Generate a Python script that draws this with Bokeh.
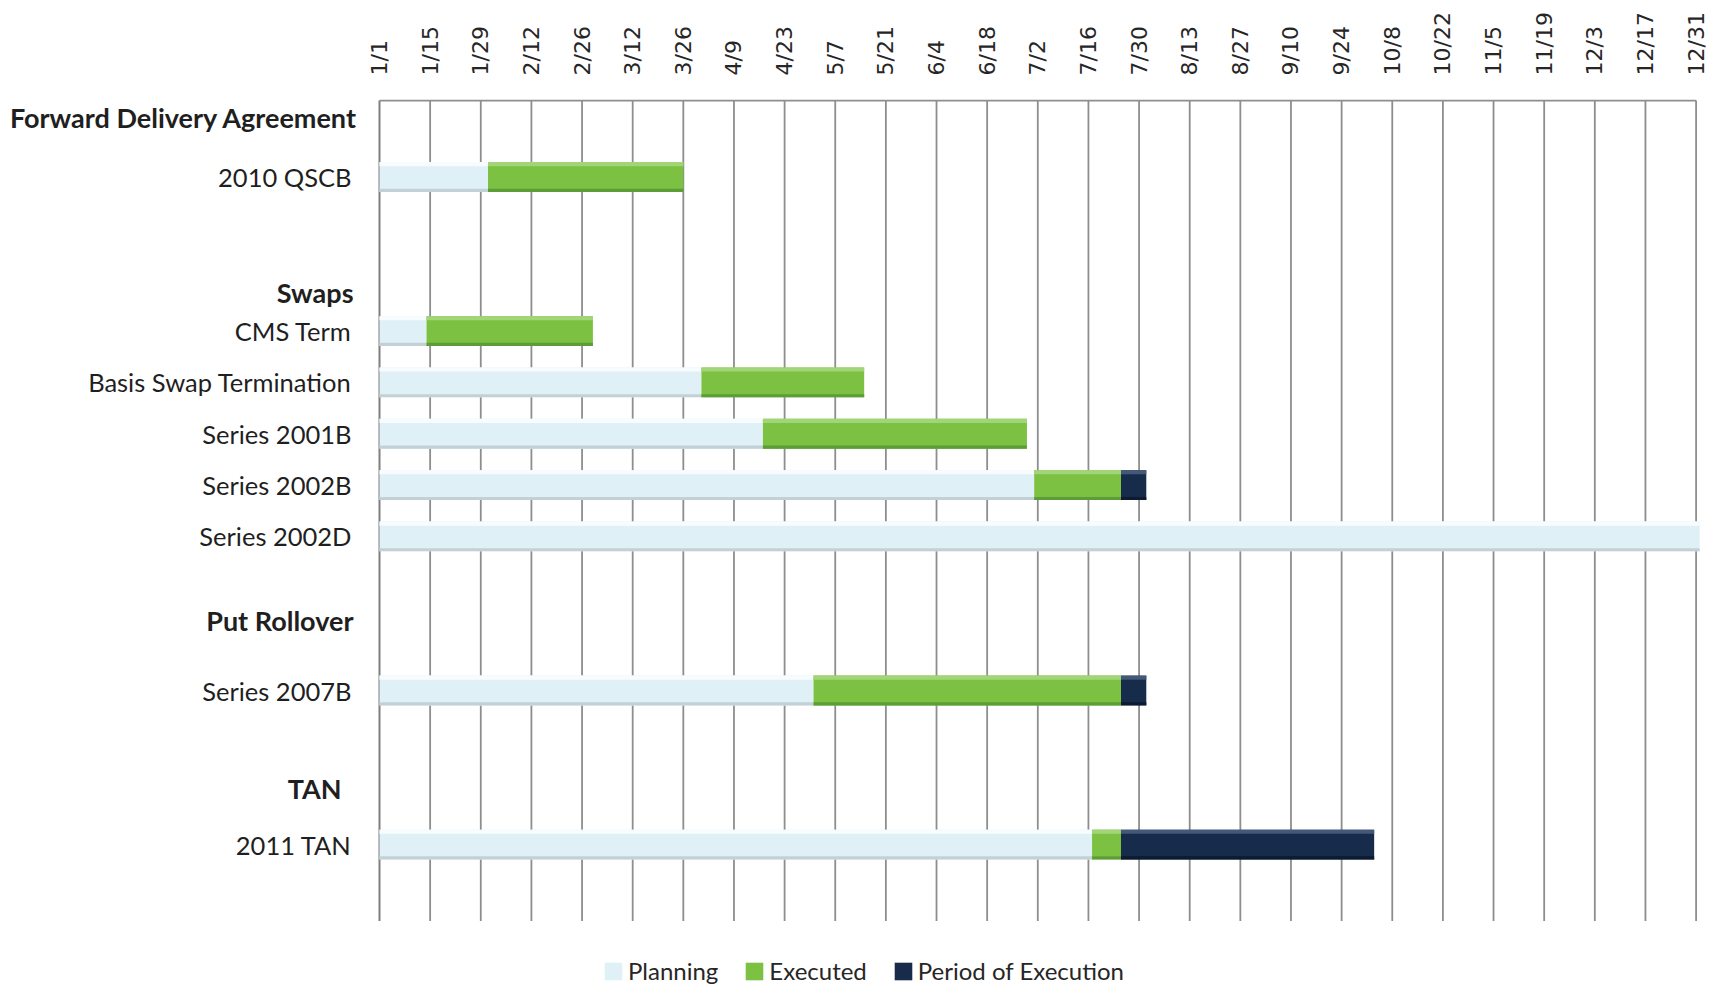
import pandas as pd
from bokeh.plotting import figure
from bokeh.models import ColumnDataSource, Range1d, FixedTicker, Legend, LegendItem
from bokeh.core.properties import value
from bokeh.embed import file_html
from bokeh.resources import INLINE

# ---------------------------------------------------------------- data
year_start = "2011-01-01"

tick_labels = ["1/1", "1/15", "1/29", "2/12", "2/26", "3/12", "3/26", "4/9", "4/23",
               "5/7", "5/21", "6/4", "6/18", "7/2", "7/16", "7/30", "8/13", "8/27",
               "9/10", "9/24", "10/8", "10/22", "11/5", "11/19", "12/3", "12/17", "12/31"]

groups = ["Forward Delivery Agreement", "Swaps", "Put Rollover", "TAN"]

tasks = ["2010 QSCB", "CMS Term", "Basis Swap Termination", "Series 2001B",
         "Series 2002B", "Series 2002D", "Series 2007B", "2011 TAN"]
task_group = ["Forward Delivery Agreement", "Swaps", "Swaps", "Swaps",
              "Swaps", "Swaps", "Put Rollover", "TAN"]

planning_start = ["2011-01-01", "2011-01-01", "2011-01-01", "2011-01-01",
                  "2011-01-01", "2011-01-01", "2011-01-01", "2011-01-01"]
planning_end = ["2011-01-31", "2011-01-14", "2011-03-31", "2011-04-17",
                "2011-07-01", "2012-01-01", "2011-05-01", "2011-07-17"]
executed_end = ["2011-03-26", "2011-03-01", "2011-05-15", "2011-06-29",
                "2011-07-25", None, "2011-07-25", "2011-07-25"]
execution_end = [None, None, None, None,
                 "2011-08-01", None, "2011-08-01", "2011-10-03"]

# ---------------------------------------------------------------- layout
ROW_PX = 51.35            # pixels per row
FIRST_ROW_Y = 176.5       # pixel centre of the first row
TOP = 99                  # frame top in pixels
W, H = 1720, 985
PX_PER_DAY = 3.617
AXIS_X = 379              # pixel position of day 0

group_gap = 2             # empty rows between groups
header_lift = {"Forward Delivery Agreement": 1.16, "Swaps": 0.75,
               "Put Rollover": 1.37, "TAN": 1.1}
header_offset = {"Forward Delivery Agreement": -22, "Swaps": -26,
                 "Put Rollover": -26, "TAN": -38}
BAR_HALF = 0.29


def day(d):
    return (pd.Timestamp(d) - pd.Timestamp(year_start)).days


# row index for each task, with blank rows between groups
rows, r, prev = [], 0, None
for g in task_group:
    if prev is not None and g != prev:
        r += group_gap
    rows.append(r)
    r += 1
    prev = g
first_row = {}
for g, rr in zip(task_group, rows):
    first_row.setdefault(g, rr)
last_row = rows[-1]

tick_days = [day(pd.Timestamp(f"2011/{lbl}")) for lbl in tick_labels]

y_top = (TOP - FIRST_ROW_Y) / ROW_PX
y_bottom = (H - FIRST_ROW_Y) / ROW_PX
x_start = -AXIS_X / PX_PER_DAY
x_end = (W - AXIS_X) / PX_PER_DAY

p = figure(width=W, height=H, output_backend="svg", toolbar_location=None,
           x_range=Range1d(x_start, x_end), y_range=Range1d(y_bottom, y_top),
           x_axis_location="above", y_axis_location=None,
           min_border_left=0, min_border_right=0, min_border_bottom=0,
           min_border_top=TOP)
p.outline_line_color = None
p.xgrid.visible = False
p.ygrid.visible = False
p.background_fill_color = "white"
p.border_fill_color = "white"

ax = p.xaxis[0]
ax.ticker = FixedTicker(ticks=tick_days)
ax.major_label_overrides = {d: lbl for d, lbl in zip(tick_days, tick_labels)}
ax.major_label_orientation = "vertical"
ax.major_label_standoff = 18
ax.major_label_text_font = "DejaVu Sans"
ax.major_label_text_font_size = "22px"
ax.major_label_text_color = "#262626"
ax.axis_line_color = None
ax.major_tick_line_color = None
ax.minor_tick_line_color = None

# vertical grid lines, top border, left axis line
g_top = -1.49
g_bot = last_row + 1.49
p.segment(x0=tick_days[1:], x1=tick_days[1:], y0=g_top, y1=g_bot,
          line_color="#8e8e8e", line_width=1.8)
p.segment(x0=[0], x1=[0], y0=[g_top], y1=[g_bot], line_color="#7f7f7f", line_width=2)
p.segment(x0=[0], x1=[tick_days[-1]], y0=[g_top], y1=[g_top],
          line_color="#8e8e8e", line_width=1.8)


def segments(starts, ends):
    L, R, Y = [], [], []
    for s, e, y in zip(starts, ends, rows):
        if s is None or e is None:
            continue
        L.append(day(s))
        R.append(day(e))
        Y.append(y)
    return L, R, Y


phase_styles = [
    ("Planning", planning_start, planning_end, "#dff1f7", "#f8fcfe", "#c3d1d6"),
    ("Executed", planning_end, executed_end, "#7cc142", "#a2d577", "#5c9d38"),
    ("Period of Execution", executed_end, execution_end, "#172b4b", "#44597a", "#0d1a30"),
]

legend_items = []
for name, s_list, e_list, main, light, dark in phase_styles:
    L, R, Y = segments(s_list, e_list)
    src = ColumnDataSource(dict(
        left=L, right=R,
        top=[y - BAR_HALF for y in Y], bottom=[y + BAR_HALF for y in Y],
        hl_bottom=[y - BAR_HALF + 0.08 for y in Y],
        sh_top=[y + BAR_HALF - 0.06 for y in Y],
    ))
    main_r = p.quad(left="left", right="right", top="top", bottom="bottom",
                    source=src, fill_color=main, line_color=None)
    p.quad(left="left", right="right", top="top", bottom="hl_bottom",
           source=src, fill_color=light, line_color=None)
    p.quad(left="left", right="right", top="sh_top", bottom="bottom",
           source=src, fill_color=dark, line_color=None)
    legend_items.append(LegendItem(label=name, renderers=[main_r]))

# task labels
task_src = ColumnDataSource(dict(x=[0] * len(tasks), y=rows, text=tasks))
p.text(x="x", y="y", text="text", source=task_src, x_offset=-28,
       text_align="right", text_baseline="middle", text_font=value("Lato"),
       text_font_size="25.5px", text_color="#1f1f1f")

# group headers
hdr_src = ColumnDataSource(dict(
    x=[0] * len(groups),
    y=[first_row[g] - header_lift[g] for g in groups],
    xo=[header_offset[g] for g in groups],
    text=groups))
p.text(x="x", y="y", text="text", source=hdr_src, x_offset="xo",
       text_align="right", text_baseline="middle", text_font=value("Lato"),
       text_font_style="bold", text_font_size="27px", text_color="#1f1f1f")

legend = Legend(items=legend_items, orientation="horizontal", location=(602, 0),
                label_text_font="Lato", label_text_font_size="24px",
                label_text_color="#262626", glyph_width=22, glyph_height=22,
                label_standoff=4, spacing=25, padding=0, margin=0,
                border_line_color=None, background_fill_alpha=0)
p.add_layout(legend, "center")

open("out.html", "w").write(file_html(p, INLINE))
